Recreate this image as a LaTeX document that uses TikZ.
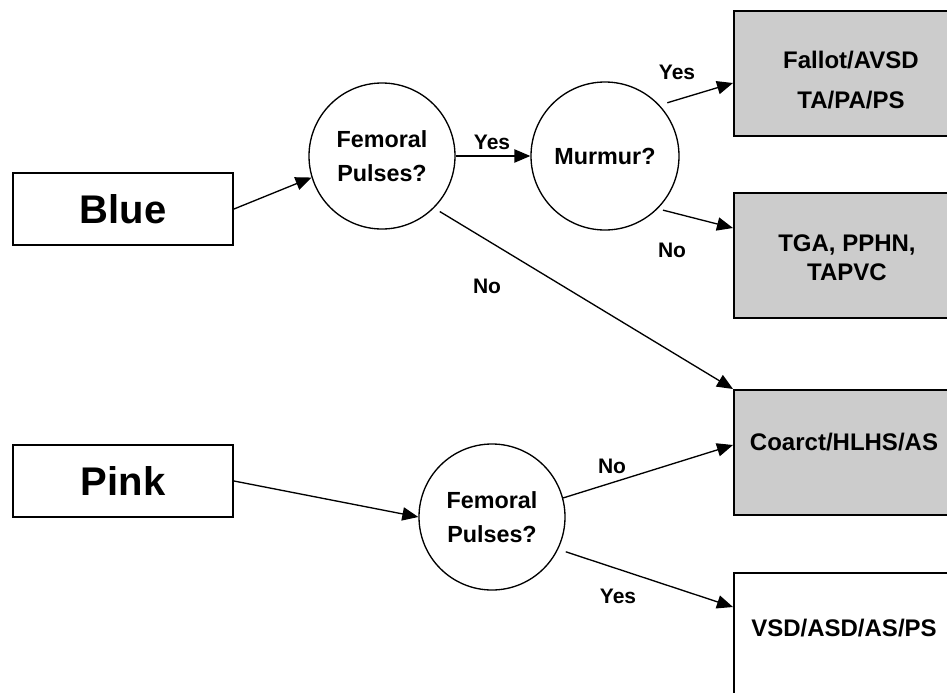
\documentclass[tikz,border=0pt]{standalone}
\usepackage{fontspec}
\setmainfont{Liberation Sans}
\usetikzlibrary{arrows.meta,calc}
\tikzset{
  startbox/.style={draw, line width=1.5pt, minimum width=165pt, minimum height=54pt, inner sep=0pt, font=\bfseries\fontsize{30}{36}\selectfont},
  question/.style={draw, circle, line width=1pt, minimum size=109.5pt, inner sep=0pt, align=center, font=\bfseries\fontsize{17.5}{25}\selectfont},
  dxbox/.style={draw, line width=1.5pt, minimum width=174pt, minimum height=93.75pt, inner sep=0pt},
  dxgrey/.style={dxbox, fill=black!20},
  dxtext/.style={align=center, inner sep=0pt, font=\bfseries\fontsize{18}{21.6}\selectfont},
  answer/.style={inner sep=0pt, font=\bfseries\fontsize{15.75}{18}\selectfont},
  arr/.style={-{Triangle[length=12pt,width=10pt]}, line width=1pt},
}
\begin{document}
\begin{tikzpicture}[x=0.75pt, y=-0.75pt]
\clip (0,0) rectangle (947,693);
\fill[white] (0,0) rectangle (947,693);
\node[startbox] (blue) at (123,209){Blue};
\node[startbox] (pink) at (123,481){Pink};
\node[question] (fp1) at (382,156){Femoral\\Pulses?};
\node[question, minimum size=111pt] (mur) at (605,156){Murmur?};
\node[question] (fp2) at (492,517){Femoral\\Pulses?};
\node[dxgrey] (d1) at (850,73){};
\node[dxgrey] (d2) at (850,255){};
\node[dxgrey] (d3) at (850,452.5){};
\node[dxbox] (d4) at (850,635){};
\node[dxtext] (d1txt) at (851,80){Fallot/AVSD\\[8.4pt]TA/PA/PS};
\node[dxtext] (d2txt) at (847,257.5){TGA, PPHN,\\TAPVC};
\node[dxtext] (d3txt) at (844,442){Coarct/HLHS/AS};
\node[dxtext] (d4txt) at (844,628){VSD/ASD/AS/PS};
\draw[arr](blue.east) -- (fp1.197);
\draw[arr](fp1.east) -- (mur.west);
\draw[arr, shorten <=6pt](mur.43) -- ($(d1.west)+(0,10)$);
\draw[arr, shorten <=4pt](mur.-45) -- ($(d2.west)+(0,-27)$);
\draw[arr, shorten <=5pt](fp1.-45) -- (d3.north west);
\draw[arr](pink.east) -- (fp2.west);
\draw[arr](fp2.15) -- ($(d3.west)+(0,-7.5)$);
\draw[arr, shorten <=6pt](fp2.-26) -- ($(d4.west)+(0,-28)$);
\node[answer] (yes1) at (492,142){Yes};
\node[answer] (yes2) at (677,72){Yes};
\node[answer] (no1) at (672,250){No};
\node[answer] (no2) at (487,286){No};
\node[answer] (no3) at (612,466){No};
\node[answer] (yes3) at (618,596){Yes};
\end{tikzpicture}
\end{document}
